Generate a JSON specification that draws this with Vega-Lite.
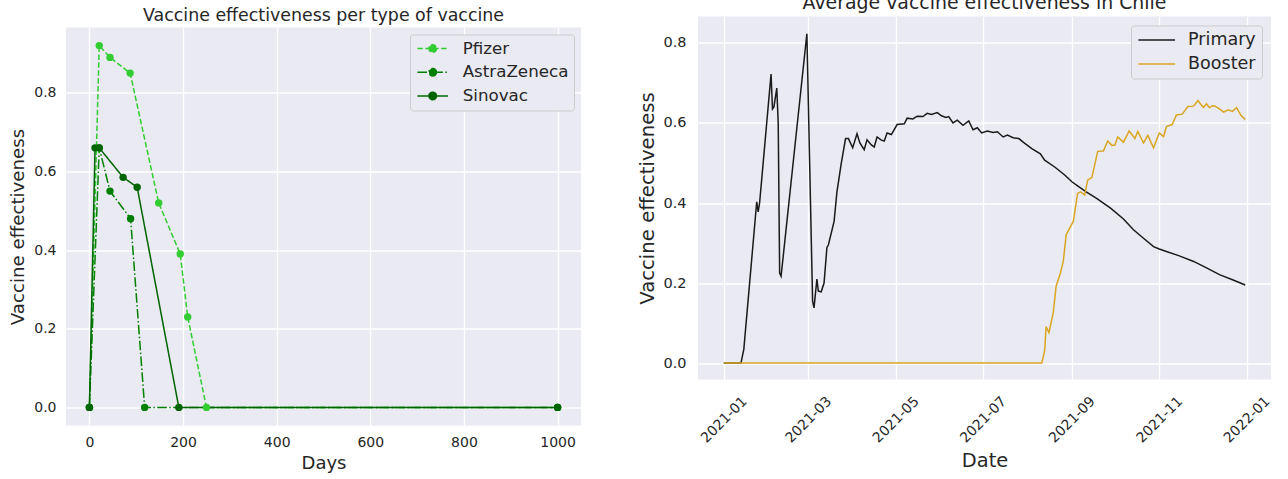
{
  "$schema": "https://vega.github.io/schema/vega-lite/v6.json",
  "background": "white",
  "padding": {"left": 8, "top": -6.5, "right": 0, "bottom": 0},
  "spacing": 56,
  "config": {
    "font": "DejaVu Sans",
    "view": {"fill": "#EAEAF2", "stroke": null},
    "axis": {
      "domain": false,
      "ticks": false,
      "gridColor": "#FFFFFF",
      "gridWidth": 1.3,
      "labelColor": "#262626",
      "titleColor": "#262626",
      "titleFontWeight": "normal",
      "labelFont": "DejaVu Sans",
      "titleFont": "DejaVu Sans"
    },
    "legend": {
      "labelColor": "#262626",
      "labelFont": "DejaVu Sans",
      "fillColor": "#EAEAF2",
      "strokeColor": "#CCCCCC",
      "cornerRadius": 3
    },
    "title": {"color": "#262626", "fontWeight": "normal", "font": "DejaVu Sans"}
  },
  "hconcat": [
    {
      "bounds": "flush",
      "spacing": 10,
      "resolve": {"legend": {"color": "independent", "strokeDash": "independent"}, "scale": {"color": "independent", "strokeDash": "independent"}},
      "vconcat": [
        {
          "width": 515,
          "height": 1,
          "view": {"fill": null, "stroke": null},
          "data": {"values": []},
          "mark": "point"
        },
        {
          "width": 515,
          "height": 398,
          "title": {
            "text": "Vaccine effectiveness per type of vaccine",
            "fontSize": 17.4,
            "frame": "group",
            "anchor": "middle",
            "baseline": "alphabetic",
            "offset": -10.4
          },
          "data": {
            "values": [
              {"vaccine": "Pfizer", "days": 0, "ve": 0},
              {"vaccine": "Pfizer", "days": 21, "ve": 0.92},
              {"vaccine": "Pfizer", "days": 44, "ve": 0.89},
              {"vaccine": "Pfizer", "days": 87, "ve": 0.85},
              {"vaccine": "Pfizer", "days": 148, "ve": 0.52},
              {"vaccine": "Pfizer", "days": 194, "ve": 0.39},
              {"vaccine": "Pfizer", "days": 210, "ve": 0.23},
              {"vaccine": "Pfizer", "days": 250, "ve": 0},
              {"vaccine": "Pfizer", "days": 1000, "ve": 0},
              {"vaccine": "AstraZeneca", "days": 0, "ve": 0},
              {"vaccine": "AstraZeneca", "days": 21, "ve": 0.66},
              {"vaccine": "AstraZeneca", "days": 44, "ve": 0.55},
              {"vaccine": "AstraZeneca", "days": 88, "ve": 0.48},
              {"vaccine": "AstraZeneca", "days": 118, "ve": 0},
              {"vaccine": "AstraZeneca", "days": 1000, "ve": 0},
              {"vaccine": "Sinovac", "days": 0, "ve": 0},
              {"vaccine": "Sinovac", "days": 12, "ve": 0.66},
              {"vaccine": "Sinovac", "days": 21, "ve": 0.66},
              {"vaccine": "Sinovac", "days": 72, "ve": 0.585},
              {"vaccine": "Sinovac", "days": 102, "ve": 0.56},
              {"vaccine": "Sinovac", "days": 191, "ve": 0},
              {"vaccine": "Sinovac", "days": 1000, "ve": 0}
            ]
          },
          "encoding": {
            "x": {
              "field": "days", "type": "quantitative",
              "scale": {"domain": [-50, 1050], "nice": false, "zero": false},
              "axis": {"title": "Days", "values": [0, 200, 400, 600, 800, 1000], "format": "d",
                       "labelFontSize": 14, "titleFontSize": 18, "labelPadding": 10, "titlePadding": 5}
            },
            "y": {
              "field": "ve", "type": "quantitative",
              "scale": {"domain": [-0.046, 0.966], "nice": false, "zero": false},
              "axis": {"title": "Vaccine effectiveness", "values": [0, 0.2, 0.4, 0.6, 0.8], "format": ".1f",
                       "labelFontSize": 14, "titleFontSize": 18.2, "labelPadding": 10, "titlePadding": 6}
            },
            "color": {
              "field": "vaccine", "type": "nominal",
              "scale": {"domain": ["Pfizer", "AstraZeneca", "Sinovac"], "range": ["#32CD32", "#008000", "#006400"]}
            }
          },
          "layer": [
            {
              "mark": {"type": "line", "strokeWidth": 1.5},
              "encoding": {
                "strokeDash": {
                  "field": "vaccine", "type": "nominal",
                  "scale": {"domain": ["Pfizer", "AstraZeneca", "Sinovac"], "range": [[5.5, 2.4], [9.6, 2.4, 1.5, 2.4], [1, 0]]}
                },
                "color": {
                  "field": "vaccine", "type": "nominal",
                  "scale": {"domain": ["Pfizer", "AstraZeneca", "Sinovac"], "range": ["#32CD32", "#008000", "#006400"]},
                  "legend": {
                    "title": null,
                    "orient": "top-right",
                    "offset": 7,
                    "padding": 5,
                    "rowPadding": 5.7,
                    "labelFontSize": 16.7,
                    "symbolType": "M-1.91,0L1.91,0M0.47,0A0.47,0.47,0,1,1,-0.47,0A0.47,0.47,0,1,1,0.47,0Z",
                    "symbolSize": 256,
                    "symbolStrokeWidth": 1.5,
                    "symbolOffset": 8.7,
                    "labelOffset": 21,
                    "encode": {
                      "symbols": {
                        "update": {
                          "fill": {"signal": "datum.value === 'Pfizer' ? '#32CD32' : datum.value === 'AstraZeneca' ? '#008000' : '#006400'"},
                          "fillOpacity": {"value": 1}
                        }
                      }
                    }
                  }
                }
              }
            },
            {
              "mark": {"type": "point", "filled": true, "size": 55, "opacity": 1},
              "encoding": {
                "color": {
                  "field": "vaccine", "type": "nominal",
                  "scale": {"domain": ["Pfizer", "AstraZeneca", "Sinovac"], "range": ["#32CD32", "#008000", "#006400"]},
                  "legend": null
                }
              }
            }
          ]
        }
      ]
    },
    {
      "width": 573,
      "height": 363,
      "title": {
        "text": "Average vaccine effectiveness in Chile",
        "fontSize": 18.9,
        "frame": "group",
        "anchor": "middle",
        "baseline": "alphabetic",
        "offset": -10.9
      },
      "data": {
        "values": [
          {"series": "Primary", "date": "2021-01-01", "ve": 0},
          {"series": "Primary", "date": "2021-01-13", "ve": 0},
          {"series": "Primary", "date": "2021-01-15", "ve": 0.035},
          {"series": "Primary", "date": "2021-01-24", "ve": 0.403},
          {"series": "Primary", "date": "2021-01-25", "ve": 0.378},
          {"series": "Primary", "date": "2021-01-26", "ve": 0.40},
          {"series": "Primary", "date": "2021-02-03", "ve": 0.722},
          {"series": "Primary", "date": "2021-02-04", "ve": 0.635},
          {"series": "Primary", "date": "2021-02-05", "ve": 0.64},
          {"series": "Primary", "date": "2021-02-07", "ve": 0.687},
          {"series": "Primary", "date": "2021-02-08", "ve": 0.60},
          {"series": "Primary", "date": "2021-02-09", "ve": 0.225},
          {"series": "Primary", "date": "2021-02-10", "ve": 0.217},
          {"series": "Primary", "date": "2021-02-28", "ve": 0.823},
          {"series": "Primary", "date": "2021-03-04", "ve": 0.155},
          {"series": "Primary", "date": "2021-03-05", "ve": 0.138},
          {"series": "Primary", "date": "2021-03-07", "ve": 0.21},
          {"series": "Primary", "date": "2021-03-08", "ve": 0.18},
          {"series": "Primary", "date": "2021-03-10", "ve": 0.178},
          {"series": "Primary", "date": "2021-03-12", "ve": 0.20},
          {"series": "Primary", "date": "2021-03-14", "ve": 0.289},
          {"series": "Primary", "date": "2021-03-15", "ve": 0.295},
          {"series": "Primary", "date": "2021-03-19", "ve": 0.354},
          {"series": "Primary", "date": "2021-03-21", "ve": 0.428},
          {"series": "Primary", "date": "2021-03-24", "ve": 0.499},
          {"series": "Primary", "date": "2021-03-27", "ve": 0.561},
          {"series": "Primary", "date": "2021-03-29", "ve": 0.561},
          {"series": "Primary", "date": "2021-04-01", "ve": 0.538},
          {"series": "Primary", "date": "2021-04-04", "ve": 0.573},
          {"series": "Primary", "date": "2021-04-06", "ve": 0.55},
          {"series": "Primary", "date": "2021-04-09", "ve": 0.533},
          {"series": "Primary", "date": "2021-04-11", "ve": 0.558},
          {"series": "Primary", "date": "2021-04-14", "ve": 0.545},
          {"series": "Primary", "date": "2021-04-16", "ve": 0.54},
          {"series": "Primary", "date": "2021-04-18", "ve": 0.565},
          {"series": "Primary", "date": "2021-04-21", "ve": 0.557},
          {"series": "Primary", "date": "2021-04-23", "ve": 0.555},
          {"series": "Primary", "date": "2021-04-25", "ve": 0.575},
          {"series": "Primary", "date": "2021-04-28", "ve": 0.571},
          {"series": "Primary", "date": "2021-05-02", "ve": 0.596},
          {"series": "Primary", "date": "2021-05-07", "ve": 0.598},
          {"series": "Primary", "date": "2021-05-09", "ve": 0.612},
          {"series": "Primary", "date": "2021-05-13", "ve": 0.61},
          {"series": "Primary", "date": "2021-05-16", "ve": 0.617},
          {"series": "Primary", "date": "2021-05-20", "ve": 0.616},
          {"series": "Primary", "date": "2021-05-23", "ve": 0.624},
          {"series": "Primary", "date": "2021-05-26", "ve": 0.621},
          {"series": "Primary", "date": "2021-05-30", "ve": 0.626},
          {"series": "Primary", "date": "2021-06-02", "ve": 0.618},
          {"series": "Primary", "date": "2021-06-05", "ve": 0.614},
          {"series": "Primary", "date": "2021-06-07", "ve": 0.616},
          {"series": "Primary", "date": "2021-06-10", "ve": 0.60},
          {"series": "Primary", "date": "2021-06-13", "ve": 0.607},
          {"series": "Primary", "date": "2021-06-17", "ve": 0.594},
          {"series": "Primary", "date": "2021-06-21", "ve": 0.605},
          {"series": "Primary", "date": "2021-06-24", "ve": 0.583},
          {"series": "Primary", "date": "2021-06-27", "ve": 0.588},
          {"series": "Primary", "date": "2021-06-30", "ve": 0.575},
          {"series": "Primary", "date": "2021-07-04", "ve": 0.58},
          {"series": "Primary", "date": "2021-07-08", "ve": 0.576},
          {"series": "Primary", "date": "2021-07-11", "ve": 0.578},
          {"series": "Primary", "date": "2021-07-15", "ve": 0.565},
          {"series": "Primary", "date": "2021-07-18", "ve": 0.57},
          {"series": "Primary", "date": "2021-07-22", "ve": 0.563},
          {"series": "Primary", "date": "2021-07-26", "ve": 0.561},
          {"series": "Primary", "date": "2021-07-29", "ve": 0.552},
          {"series": "Primary", "date": "2021-08-04", "ve": 0.536},
          {"series": "Primary", "date": "2021-08-10", "ve": 0.523},
          {"series": "Primary", "date": "2021-08-13", "ve": 0.507},
          {"series": "Primary", "date": "2021-08-20", "ve": 0.49},
          {"series": "Primary", "date": "2021-08-27", "ve": 0.47},
          {"series": "Primary", "date": "2021-09-01", "ve": 0.453},
          {"series": "Primary", "date": "2021-09-05", "ve": 0.443},
          {"series": "Primary", "date": "2021-09-11", "ve": 0.428},
          {"series": "Primary", "date": "2021-09-18", "ve": 0.412},
          {"series": "Primary", "date": "2021-09-28", "ve": 0.387},
          {"series": "Primary", "date": "2021-10-07", "ve": 0.36},
          {"series": "Primary", "date": "2021-10-14", "ve": 0.333},
          {"series": "Primary", "date": "2021-10-21", "ve": 0.312},
          {"series": "Primary", "date": "2021-10-28", "ve": 0.291},
          {"series": "Primary", "date": "2021-11-01", "ve": 0.285},
          {"series": "Primary", "date": "2021-11-06", "ve": 0.279},
          {"series": "Primary", "date": "2021-11-15", "ve": 0.268},
          {"series": "Primary", "date": "2021-11-25", "ve": 0.254},
          {"series": "Primary", "date": "2021-12-04", "ve": 0.238},
          {"series": "Primary", "date": "2021-12-13", "ve": 0.221},
          {"series": "Primary", "date": "2021-12-23", "ve": 0.207},
          {"series": "Primary", "date": "2021-12-31", "ve": 0.195},
          {"series": "Booster", "date": "2021-01-01", "ve": 0},
          {"series": "Booster", "date": "2021-08-11", "ve": 0},
          {"series": "Booster", "date": "2021-08-13", "ve": 0.031},
          {"series": "Booster", "date": "2021-08-14", "ve": 0.091},
          {"series": "Booster", "date": "2021-08-16", "ve": 0.076},
          {"series": "Booster", "date": "2021-08-19", "ve": 0.126},
          {"series": "Booster", "date": "2021-08-21", "ve": 0.192},
          {"series": "Booster", "date": "2021-08-24", "ve": 0.225},
          {"series": "Booster", "date": "2021-08-26", "ve": 0.254},
          {"series": "Booster", "date": "2021-08-28", "ve": 0.32},
          {"series": "Booster", "date": "2021-08-31", "ve": 0.341},
          {"series": "Booster", "date": "2021-09-02", "ve": 0.354},
          {"series": "Booster", "date": "2021-09-05", "ve": 0.424},
          {"series": "Booster", "date": "2021-09-07", "ve": 0.428},
          {"series": "Booster", "date": "2021-09-10", "ve": 0.42},
          {"series": "Booster", "date": "2021-09-12", "ve": 0.457},
          {"series": "Booster", "date": "2021-09-15", "ve": 0.464},
          {"series": "Booster", "date": "2021-09-19", "ve": 0.529},
          {"series": "Booster", "date": "2021-09-23", "ve": 0.53},
          {"series": "Booster", "date": "2021-09-26", "ve": 0.555},
          {"series": "Booster", "date": "2021-09-29", "ve": 0.544},
          {"series": "Booster", "date": "2021-10-01", "ve": 0.545},
          {"series": "Booster", "date": "2021-10-03", "ve": 0.565},
          {"series": "Booster", "date": "2021-10-07", "ve": 0.552},
          {"series": "Booster", "date": "2021-10-11", "ve": 0.58},
          {"series": "Booster", "date": "2021-10-15", "ve": 0.561},
          {"series": "Booster", "date": "2021-10-17", "ve": 0.579},
          {"series": "Booster", "date": "2021-10-21", "ve": 0.55},
          {"series": "Booster", "date": "2021-10-24", "ve": 0.569},
          {"series": "Booster", "date": "2021-10-28", "ve": 0.538},
          {"series": "Booster", "date": "2021-11-01", "ve": 0.575},
          {"series": "Booster", "date": "2021-11-04", "ve": 0.566},
          {"series": "Booster", "date": "2021-11-06", "ve": 0.591},
          {"series": "Booster", "date": "2021-11-10", "ve": 0.596},
          {"series": "Booster", "date": "2021-11-13", "ve": 0.62},
          {"series": "Booster", "date": "2021-11-17", "ve": 0.622},
          {"series": "Booster", "date": "2021-11-21", "ve": 0.641},
          {"series": "Booster", "date": "2021-11-25", "ve": 0.642},
          {"series": "Booster", "date": "2021-11-28", "ve": 0.656},
          {"series": "Booster", "date": "2021-11-30", "ve": 0.646},
          {"series": "Booster", "date": "2021-12-02", "ve": 0.639},
          {"series": "Booster", "date": "2021-12-04", "ve": 0.648},
          {"series": "Booster", "date": "2021-12-06", "ve": 0.638},
          {"series": "Booster", "date": "2021-12-08", "ve": 0.643},
          {"series": "Booster", "date": "2021-12-10", "ve": 0.642},
          {"series": "Booster", "date": "2021-12-13", "ve": 0.635},
          {"series": "Booster", "date": "2021-12-16", "ve": 0.627},
          {"series": "Booster", "date": "2021-12-19", "ve": 0.633},
          {"series": "Booster", "date": "2021-12-22", "ve": 0.629},
          {"series": "Booster", "date": "2021-12-25", "ve": 0.638},
          {"series": "Booster", "date": "2021-12-28", "ve": 0.619},
          {"series": "Booster", "date": "2021-12-31", "ve": 0.609}
        ]
      },
      "mark": {"type": "line", "strokeWidth": 1.5},
      "encoding": {
        "x": {
          "field": "date", "type": "temporal",
          "scale": {"type": "utc", "domain": [{"year": 2020, "month": 12, "date": 14, "utc": true}, {"year": 2022, "month": 1, "date": 18, "utc": true}], "nice": false},
          "axis": {"title": "Date", "labelExpr": "utcFormat(datum.value, '%Y-%m')",
                   "tickCount": {"interval": "month", "step": 2},
                   "labelAngle": -45, "labelAlign": "center", "labelBaseline": "middle",
                   "labelFontSize": 14, "labelPadding": 40, "labelOverlap": false,
                   "titleFontSize": 19.4, "titlePadding": 6}
        },
        "y": {
          "field": "ve", "type": "quantitative",
          "scale": {"domain": [-0.041, 0.866], "nice": false, "zero": false},
          "axis": {"title": "Vaccine effectiveness", "values": [0, 0.2, 0.4, 0.6, 0.8], "format": ".1f",
                   "labelFontSize": 14.5, "titleFontSize": 19.7, "labelPadding": 12, "titlePadding": 5}
        },
        "color": {
          "field": "series", "type": "nominal",
          "scale": {"domain": ["Primary", "Booster"], "range": ["#1A1A1A", "#DAA520"]},
          "legend": {
            "title": null,
            "orient": "top-right",
            "offset": 9,
            "padding": 5.5,
            "rowPadding": 6,
            "labelFontSize": 17.5,
            "symbolType": "M-2.29,0L2.29,0",
            "symbolSize": 256,
            "symbolStrokeWidth": 1.5,
            "symbolOffset": 11.25,
            "labelOffset": 22.35
          }
        }
      }
    }
  ],
  "resolve": {"scale": {"color": "independent", "strokeDash": "independent"}, "legend": {"color": "independent"}}
}
